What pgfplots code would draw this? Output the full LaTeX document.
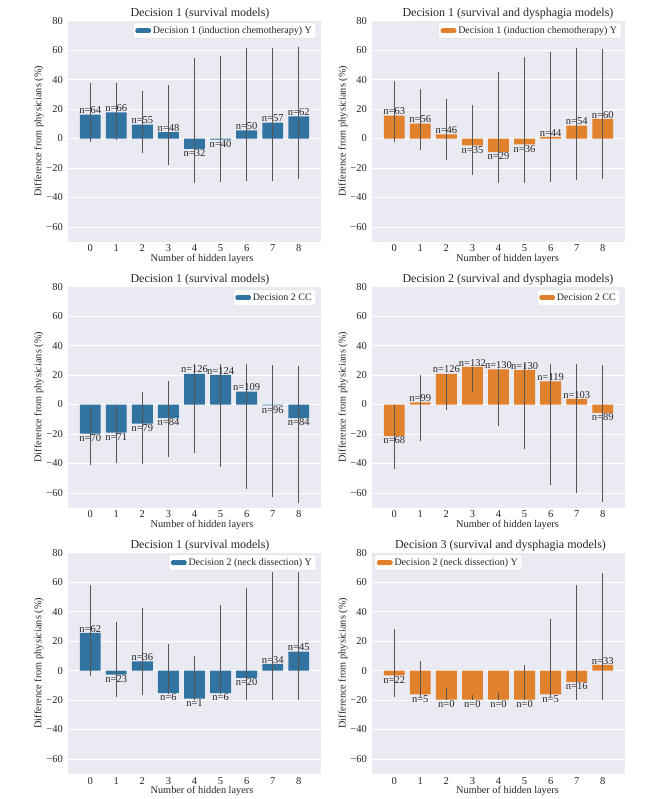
\documentclass[border=0pt]{standalone}
\usepackage{pgfplots}
\usepackage{pgfplotstable}
\pgfplotsset{compat=1.18}
\usepackage{fontspec}
\setmainfont{Liberation Serif}
\definecolor{bgcol}{HTML}{EAEAF2}
\definecolor{cblue}{HTML}{3274A1}
\definecolor{corange}{HTML}{E1812C}
\definecolor{errgray}{HTML}{555555}
\definecolor{txt}{HTML}{262626}

\pgfplotstableread{
x y lo hi n
0 16.2 -2.3 37.6 64
1 17.8 -0.7 37.6 66
2 9.5 -10 32 55
3 4.3 -18.2 36.5 48
4 -7 -30 55 32
5 -0.7 -29.5 56.3 40
6 5.6 -28.8 61.7 50
7 10.8 -28.8 61.7 57
8 15.1 -27.7 62.4 62
}\tabTL
\pgfplotstableread{
x y lo hi n
0 15.5 -2.5 39 63
1 10.1 -7.9 33.6 56
2 2.9 -14.6 27 46
3 -4.7 -25 23 35
4 -9.2 -30 45.5 29
5 -4 -30 55.2 36
6 1.1 -29.5 59 44
7 8.8 -28.2 61.7 54
8 13.3 -27.7 60.6 60
}\tabTR
\pgfplotstableread{
x y lo hi n
0 -19.8 -40.8 -0.5 70
1 -19.1 -39.9 -0.5 71
2 -13 -40.3 8.8 79
3 -9.2 -35.8 16.2 84
4 20.9 -32.9 27.3 126
5 20 -42.3 27.3 124
6 8.8 -57.4 27.3 109
7 -0.5 -62.6 26.6 96
8 -9.2 -67.1 26 84
}\tabML
\pgfplotstableread{
x y lo hi n
0 -21.4 -43.5 0 68
1 1.4 -24.8 19.8 99
2 20.9 -3.4 20 126
3 25.5 8.6 24.5 132
4 23.9 -14.6 23.5 130
5 23.4 -30.4 27.3 130
6 15.8 -54.7 27.3 119
7 3.8 -59.9 27.5 103
8 -5.6 -66 26.8 89
}\tabMR
\pgfplotstableread{
x y lo hi n
0 25.5 -3.4 57.9 62
1 -2.8 -17.8 32.7 23
2 6.2 -16.7 42.6 36
3 -15.3 -16.2 18 6
4 -19.1 -19.2 10.1 1
5 -15.3 -16.2 44.8 6
6 -5 -20.2 56.3 20
7 4.5 -20.3 67 34
8 12.8 -19.8 67 45
}\tabBL
\pgfplotstableread{
x y lo hi n
0 -3.2 -17.8 28.2 22
1 -16.2 -18 6.5 5
2 -19.8 -19.8 -11.5 0
3 -19.8 -19.8 -16.7 0
4 -19.8 -19.8 -15.2 0
5 -19.8 -19.8 3.6 0
6 -16.2 -17.8 34.9 5
7 -7.9 -20.3 57.9 16
8 3.8 -20.3 66.2 33
}\tabBR

\pgfplotsset{
  base/.style={
    scale only axis, width=252.4pt, height=221pt,
    xmin=-0.84, xmax=8.84, ymin=-70, ymax=80,
    axis background/.style={fill=bgcol},
    axis line style={draw=none},
    major tick length=0pt,
    ytick={-60,-40,-20,0,20,40,60,80},
    yticklabels={−60,−40,−20,0,20,40,60,80},
    xtick={0,1,2,3,4,5,6,7,8},
    xticklabels={0,1,2,3,4,5,6,7,8},
    ymajorgrids, grid style={white, line width=0.9pt},
    tick label style={font=\fontsize{10.5}{12}\selectfont, text=txt},
    yticklabel style={inner sep=0pt, xshift=-5.3pt},
    xticklabel style={anchor=base, inner sep=0pt, yshift=-10.3pt},
    label style={font=\fontsize{10.3}{12}\selectfont, text=txt},
    ylabel={Difference from physicians (\%)},
    xlabel={Number of hidden layers},
    ylabel style={at={(axis description cs:-0.1062,0.5)}, anchor=base},
    every axis title shift=0pt,
    title style={font=\fontsize{12}{14}\selectfont, text=txt},
    ybar, bar width=0.8,
    legend style={fill=white, draw=black!12, rounded corners=1.5pt,
      font=\fontsize{10}{12}\selectfont, text=txt, inner xsep=2pt, inner ysep=1.5pt},
    legend cell align=left,
  }
}

\newcommand{\panel}[9]{%
\begin{axis}[base, at={(#1pt,#2pt)}, anchor=south west,
  title={#5},
  title style={at={(axis description cs:0,1)}, anchor=base, xshift=#6pt, yshift=4.2pt},
  xlabel style={at={(axis description cs:0,0)}, anchor=base, xshift=#7pt, yshift=-20pt},
  legend style={#9}]
\addplot[fill=#4, draw=none,
  legend image code/.code={\fill[#4] (0pt,-2.4pt) rectangle (15.6pt,2.4pt);},
  visualization depends on={rawy \as \yval},
  nodes near coords={n=\pgfplotspointmeta},
  point meta=explicit symbolic,
  every node near coord/.append style={font=\fontsize{10.5}{12}\selectfont, inner sep=0.6pt, text=txt,
    anchor=\ifdim\yval pt<0pt north\else south\fi},
  error bars/.cd, y dir=both, y explicit, error mark=none,
  error bar style={draw=errgray, line width=1.2pt}]
  table[x=x, y=y, y error plus expr=\thisrow{hi}-\thisrow{y},
        y error minus expr=\thisrow{y}-\thisrow{lo}, meta=n] {#3};
\addlegendentry{#8}
\end{axis}}

\begin{document}
\begin{tikzpicture}
\useasboundingbox (0pt,0pt) rectangle (666pt,799pt);
\panel{68.3}{557.3}{\tabTL}{cblue}{Decision 1 (survival models)}{131.7}{133.7}{Decision 1 (induction chemotherapy) Y}{at={(1,1)}, anchor=north east, xshift=-4.7pt, yshift=-2pt}
\panel{372.3}{557.3}{\tabTR}{corange}{Decision 1 (survival and dysphagia models)}{135.7}{135.2}{Decision 1 (induction chemotherapy) Y}{at={(1,1)}, anchor=north east, xshift=-3.4pt, yshift=-2pt}
\panel{68.3}{291.3}{\tabML}{cblue}{Decision 1 (survival models)}{131.7}{133.7}{Decision 2 CC}{at={(1,1)}, anchor=north east, xshift=-4.7pt, yshift=-3pt}
\panel{372.3}{291.3}{\tabMR}{corange}{Decision 2 (survival and dysphagia models)}{135.7}{135.2}{Decision 2 CC}{at={(1,1)}, anchor=north east, xshift=-4.7pt, yshift=-3pt}
\panel{68.3}{25.3}{\tabBL}{cblue}{Decision 1 (survival models)}{131.7}{133.7}{Decision 2 (neck dissection) Y}{at={(1,1)}, anchor=north east, xshift=-4.7pt, yshift=-2pt}
\panel{372.3}{25.3}{\tabBR}{corange}{Decision 3 (survival and dysphagia models)}{128.2}{135.2}{Decision 2 (neck dissection) Y}{at={(0,1)}, anchor=north west, xshift=2.4pt, yshift=-2pt}
\end{tikzpicture}
\end{document}
